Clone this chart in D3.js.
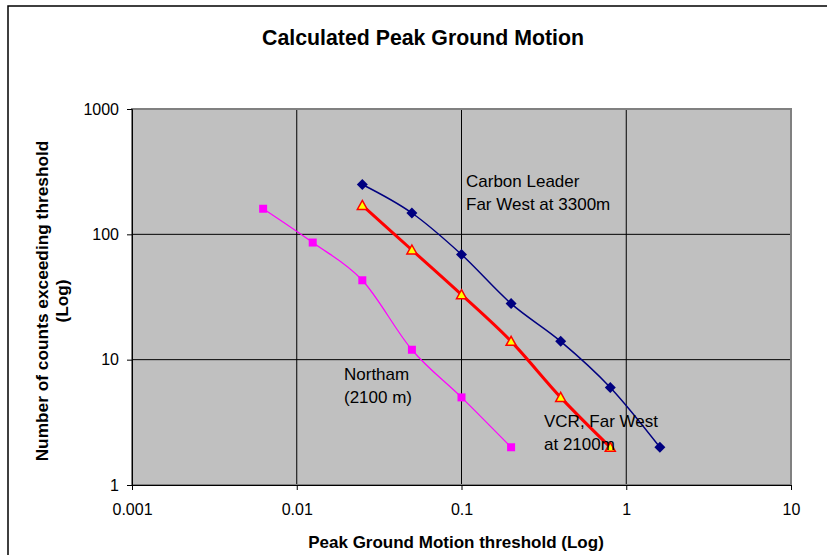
<!DOCTYPE html>
<html><head><meta charset="utf-8">
<script src="https://cdn.jsdelivr.net/npm/d3@7"></script>
<style>html,body{margin:0;padding:0;background:#fff;}svg{display:block;font-family:"Liberation Sans",Arial,sans-serif;}</style>
</head><body>
<svg id="chart" width="827" height="555"></svg>
<script>
// ---- data ----
const xTicks = [0.001, 0.01, 0.1, 1, 10];
const yTicks = [1, 10, 100, 1000];
const pgaCarbon = [0.025, 0.05, 0.1, 0.2, 0.4, 0.8, 1.6];
const countsCarbon = [250, 148, 69, 28, 14, 6, 2];
const pgaVCR = [0.025, 0.05, 0.1, 0.2, 0.4, 0.8];
const countsVCR = [170, 75, 33, 14, 5, 2];
const pgaNortham = [0.00625, 0.0125, 0.025, 0.05, 0.1, 0.2];
const countsNortham = [160, 86, 43, 12, 5, 2];
const seriesNames = ["Carbon Leader Far West at 3300m", "VCR, Far West at 2100m", "Northam (2100 m)"];

const svg = d3.select("#chart");
const L = 132, R = 791, T = 109, B = 485;
const x = d3.scaleLog().domain([0.001, 10]).range([L, R]);
const y = d3.scaleLog().domain([1, 1000]).range([B, T]);

// outer border
svg.append("rect").attr("x", 8).attr("y", 6).attr("width", 900).attr("height", 700)
  .attr("fill", "none").attr("stroke", "#000").attr("stroke-width", 1.5);

// plot area
svg.append("rect").attr("x", L).attr("y", T).attr("width", R - L).attr("height", B - T)
  .attr("fill", "#C0C0C0");

// gridlines
svg.append("g").selectAll("line").data(xTicks.slice(1, -1)).join("line")
  .attr("x1", d => x(d)).attr("x2", d => x(d)).attr("y1", T).attr("y2", B)
  .attr("stroke", "#000").attr("stroke-width", 1);
svg.append("g").selectAll("line").data(yTicks.slice(1, -1)).join("line")
  .attr("y1", d => y(d)).attr("y2", d => y(d)).attr("x1", L).attr("x2", R)
  .attr("stroke", "#000").attr("stroke-width", 1);

// plot border
svg.append("rect").attr("x", L).attr("y", T).attr("width", R - L).attr("height", B - T)
  .attr("fill", "none").attr("stroke", "#808080").attr("stroke-width", 2);

// axes
const xAxis = d3.axisBottom(x).tickValues(xTicks).tickFormat(d => String(d)).tickSize(5).tickPadding(14);
const gx = svg.append("g").attr("transform", `translate(0,${B})`).call(xAxis);
const yAxis = d3.axisLeft(y).tickValues(yTicks).tickFormat(d => String(d)).tickSize(5).tickPadding(8);
const gy = svg.append("g").attr("transform", `translate(${L},0)`).call(yAxis);
[gx, gy].forEach(g => {
  g.select(".domain").attr("stroke", "#000").attr("stroke-width", 1);
  g.selectAll(".tick line").attr("stroke", "#000");
  g.selectAll(".tick text").attr("font-size", 16).attr("fill", "#000")
    .attr("font-family", "Liberation Sans, Arial, sans-serif");
});

// series
const curve = d3.curveCatmullRom.alpha(0);
function zip(xs, ys) { return xs.map((v, i) => [v, ys[i]]); }
const line = d3.line().x(d => x(d[0])).y(d => y(d[1])).curve(curve);

const northam = zip(pgaNortham, countsNortham);
const carbon = zip(pgaCarbon, countsCarbon);
const vcr = zip(pgaVCR, countsVCR);

svg.append("path").datum(northam).attr("d", line).attr("fill", "none")
  .attr("stroke", "#FF00FF").attr("stroke-width", 1.2);
svg.append("g").selectAll("rect").data(northam).join("rect")
  .attr("x", d => x(d[0]) - 4).attr("y", d => y(d[1]) - 4)
  .attr("width", 8).attr("height", 8).attr("fill", "#FF00FF");

svg.append("path").datum(carbon).attr("d", line).attr("fill", "none")
  .attr("stroke", "#000080").attr("stroke-width", 1.5);
svg.append("g").selectAll("path").data(carbon).join("path")
  .attr("transform", d => `translate(${x(d[0])},${y(d[1])})`)
  .attr("d", "M0,-5.5L5.5,0L0,5.5L-5.5,0Z").attr("fill", "#000080");

svg.append("path").datum(vcr).attr("d", line).attr("fill", "none")
  .attr("stroke", "#FF0000").attr("stroke-width", 3);
svg.append("g").selectAll("path").data(vcr).join("path")
  .attr("transform", d => `translate(${x(d[0])},${y(d[1])})`)
  .attr("d", "M0,-5L5,4L-5,4Z").attr("fill", "#FFFF00")
  .attr("stroke", "#FF0000").attr("stroke-width", 1.5);

// annotations
function label(lines, lx, ly) {
  const t = svg.append("text").attr("x", lx).attr("y", ly).attr("font-size", 17).attr("fill", "#000");
  lines.forEach((s, i) => t.append("tspan").attr("x", lx).attr("dy", i === 0 ? 0 : 23).text(s));
}
label(["Carbon Leader", "Far West at 3300m"], 466, 187);
label(["Northam", "(2100 m)"], 344, 380);
label(["VCR, Far West", "at 2100m"], 544, 427);

// titles
svg.append("text").attr("x", 423).attr("y", 45).attr("text-anchor", "middle")
  .attr("font-size", 21.3).attr("font-weight", "bold").text("Calculated Peak Ground Motion");
svg.append("text").attr("x", 456).attr("y", 548).attr("text-anchor", "middle")
  .attr("font-size", 17).attr("font-weight", "bold").text("Peak Ground Motion threshold (Log)");
const yt = svg.append("text").attr("transform", "translate(48,301) rotate(-90)")
  .attr("text-anchor", "middle").attr("font-size", 17.3).attr("font-weight", "bold");
yt.append("tspan").attr("x", 0).attr("y", 0).text("Number of counts exceeding threshold");
yt.append("tspan").attr("x", 0).attr("y", 20).text("(Log)");
</script>
</body></html>
